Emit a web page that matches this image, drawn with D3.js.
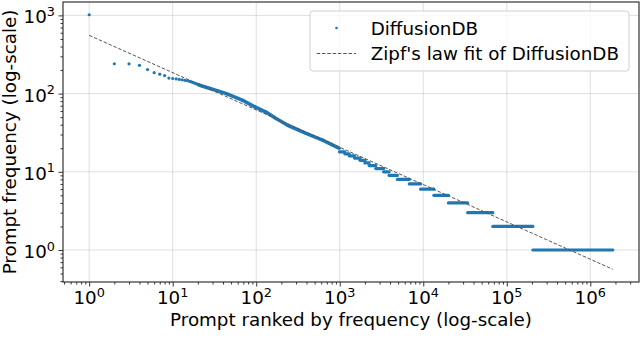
<!DOCTYPE html>
<html>
<head>
<meta charset="utf-8">
<script src="https://cdn.jsdelivr.net/npm/d3@7"></script>
<style>
  body { margin: 0; background: #fff; }
  text { font-family: "DejaVu Sans", sans-serif; fill: #000; }
</style>
</head>
<body>
<svg id="chart" width="640" height="364"></svg>
<script>
// top prompts: rank -> frequency
const headRank = [1, 2, 3, 4, 5, 6, 7, 8, 9, 10, 11, 12, 13, 14, 15, 16, 17, 18, 19, 20,
                  21, 28, 44, 69, 98, 131, 173, 238, 395, 623, 990];
const headFreq = [1020, 241, 240, 230, 203, 185, 177, 170, 158, 156, 154, 152, 150, 148, 146, 143, 140, 137, 134, 131,
                  128, 116, 100, 82, 67, 58, 48, 39.4, 31, 25.4, 20];

// tail: runs of prompts sharing the same frequency
const stepFreq  = [18, 17, 16, 15, 14, 13, 12, 11, 10, 9, 8, 7, 6, 5, 4, 3, 2, 1];
const stepStart = [990, 1150, 1300, 1500, 1750, 2000, 2250, 2700, 3350, 3900, 4900, 6800, 9300, 13400, 20000, 34000, 68000, 205000];
const stepEnd   = [1150, 1300, 1500, 1750, 2000, 2250, 2700, 3350, 3900, 4900, 6800, 9300, 13400, 20000, 34000, 68000, 205000, 1860000];

// zipf fit, two ends of the straight log-log line
const fitRank = [1, 1860000];
const fitFreq = [556, 0.567];

const xTickExp = [0, 1, 2, 3, 4, 5, 6];
const yTickExp = [0, 1, 2, 3];

const blue = "#1f77b4";
const margin = {top: 2, right: 1, bottom: 82, left: 63};
const width = 640 - margin.left - margin.right;
const height = 364 - margin.top - margin.bottom;

const svg = d3.select("#chart");
const g = svg.append("g").attr("transform", `translate(${margin.left},${margin.top})`);

// matplotlib style 5% padding in log space
function padLog(lo, hi) {
    const a = Math.log10(lo), b = Math.log10(hi), p = (b - a) * 0.05;
    return [Math.pow(10, a - p), Math.pow(10, b + p)];
}
const xMax = d3.max(stepEnd.concat(fitRank));
const yMin = d3.min(fitFreq.concat(stepFreq));
const yMax = d3.max(headFreq.concat(fitFreq));

const x = d3.scaleLog().domain(padLog(d3.min(headRank), xMax)).range([0, width]);
const y = d3.scaleLog().domain(padLog(yMin, yMax)).range([height, 0]);

function minors(scale) {
    const [lo, hi] = scale.domain();
    const out = [];
    for (let e = Math.floor(Math.log10(lo)); e <= Math.ceil(Math.log10(hi)); e++) {
        for (let m = 2; m <= 9; m++) {
            const v = m * Math.pow(10, e);
            if (v >= lo && v <= hi) out.push(v);
        }
    }
    return out;
}
const xMajor = xTickExp.map(e => Math.pow(10, e));
const yMajor = yTickExp.map(e => Math.pow(10, e));

// grid
g.append("g").selectAll("line").data(xMajor).join("line")
    .attr("x1", d => x(d)).attr("x2", d => x(d))
    .attr("y1", 0).attr("y2", height)
    .attr("stroke", "#b0b0b0").attr("stroke-opacity", 0.4).attr("stroke-width", 1);
g.append("g").selectAll("line").data(yMajor).join("line")
    .attr("y1", d => y(d)).attr("y2", d => y(d))
    .attr("x1", 0).attr("x2", width)
    .attr("stroke", "#b0b0b0").attr("stroke-opacity", 0.4).attr("stroke-width", 1);

// axes ticks (labels drawn separately for superscripts)
const xAxisG = g.append("g").attr("transform", `translate(0,${height})`);
xAxisG.append("g").call(d3.axisBottom(x).tickValues(xMajor).tickSize(4.5).tickSizeOuter(0).tickFormat(""));
xAxisG.append("g").call(d3.axisBottom(x).tickValues(minors(x)).tickSize(2.5).tickSizeOuter(0).tickFormat(""));
const yAxisG = g.append("g");
yAxisG.append("g").call(d3.axisLeft(y).tickValues(yMajor).tickSize(4.5).tickSizeOuter(0).tickFormat(""));
yAxisG.append("g").call(d3.axisLeft(y).tickValues(minors(y)).tickSize(2.5).tickSizeOuter(0).tickFormat(""));
g.selectAll(".domain").remove();
g.selectAll(".tick line").attr("stroke", "#333").attr("stroke-width", 1);

function powLabel(sel, exp) {
    sel.append("tspan").text("10");
    sel.append("tspan").attr("font-size", 12.8).attr("dy", -7.5).text(exp);
}
xTickExp.forEach(e => {
    g.append("text")
        .attr("x", x(Math.pow(10, e)))
        .attr("y", height + 22)
        .attr("text-anchor", "middle")
        .attr("font-size", 18.3)
        .call(powLabel, e);
});
yTickExp.forEach(e => {
    g.append("text")
        .attr("x", -8)
        .attr("y", y(Math.pow(10, e)) + 8)
        .attr("text-anchor", "end")
        .attr("font-size", 18.3)
        .call(powLabel, e);
});

// data: individual top ranks
const headPts = headRank.map((r, i) => ({r: r, f: headFreq[i]}));
g.append("path")
    .datum(headPts.filter(d => d.r >= 20))
    .attr("fill", "none")
    .attr("stroke", blue)
    .attr("stroke-width", 3.6)
    .attr("stroke-linejoin", "round")
    .attr("d", d3.line().x(d => x(d.r)).y(d => y(d.f)));
g.append("g").selectAll("circle").data(headPts).join("circle")
    .attr("cx", d => x(d.r))
    .attr("cy", d => y(d.f))
    .attr("r", 1.6)
    .attr("fill", blue);

// data: tail steps
g.append("g").selectAll("line").data(stepFreq).join("line")
    .attr("x1", (d, i) => x(stepStart[i]))
    .attr("x2", (d, i) => x(stepEnd[i]))
    .attr("y1", d => y(d)).attr("y2", d => y(d))
    .attr("stroke", blue)
    .attr("stroke-width", 3.2)
    .attr("stroke-linecap", "round");

// zipf fit
g.append("path")
    .datum(fitRank.map((r, i) => ({r: r, f: fitFreq[i]})))
    .attr("fill", "none")
    .attr("stroke", "#555")
    .attr("stroke-width", 1)
    .attr("stroke-dasharray", "3.5,1.8")
    .attr("d", d3.line().x(d => x(d.r)).y(d => y(d.f)));

// spines
g.append("rect")
    .attr("width", width).attr("height", height)
    .attr("fill", "none").attr("stroke", "#333").attr("stroke-width", 1.2);

// axis labels
g.append("text")
    .attr("x", width / 2).attr("y", height + 43.5)
    .attr("text-anchor", "middle")
    .attr("font-size", 18.3)
    .text("Prompt ranked by frequency (log-scale)");
svg.append("text")
    .attr("transform", `translate(15.5,${margin.top + height / 2}) rotate(-90)`)
    .attr("text-anchor", "middle")
    .attr("font-size", 18.3)
    .text("Prompt frequency (log-scale)");

// legend
const lg = svg.append("g").attr("transform", "translate(310,11)");
lg.append("rect")
    .attr("width", 319).attr("height", 60).attr("rx", 3)
    .attr("fill", "#fff").attr("fill-opacity", 0.8)
    .attr("stroke", "#d0d0d0").attr("stroke-width", 1);
lg.append("circle").attr("cx", 26.5).attr("cy", 17).attr("r", 1.3).attr("fill", blue);
lg.append("text").attr("x", 60.7).attr("y", 23.5).attr("font-size", 18.3).text("DiffusionDB");
lg.append("line")
    .attr("x1", 6.7).attr("x2", 46).attr("y1", 42.5).attr("y2", 42.5)
    .attr("stroke", "#555").attr("stroke-width", 1).attr("stroke-dasharray", "3.5,1.8");
lg.append("text").attr("x", 60.7).attr("y", 49).attr("font-size", 18.3).text("Zipf's law fit of DiffusionDB");
</script>
</body>
</html>
